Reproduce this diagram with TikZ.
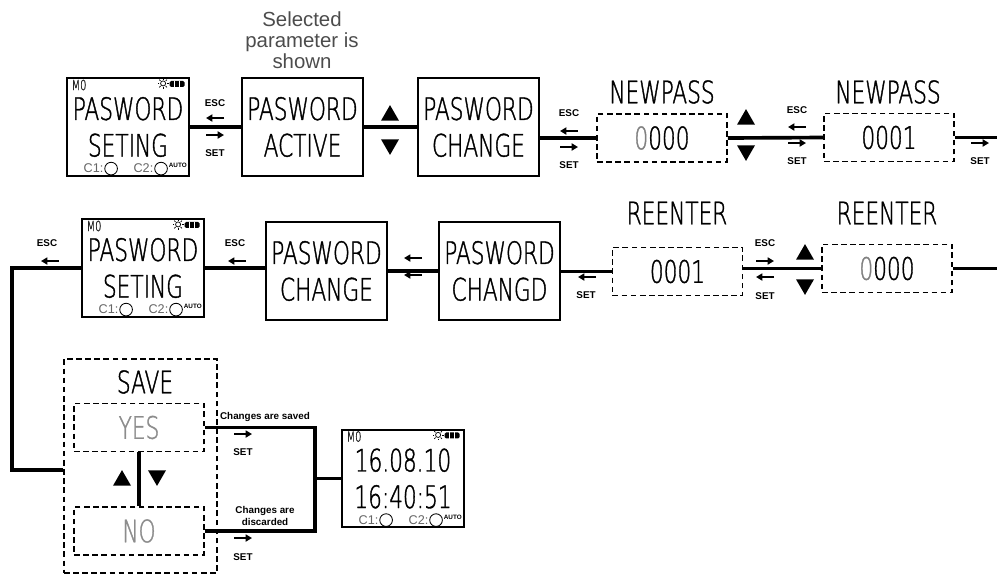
\documentclass[tikz,border=0pt]{standalone}
\usepackage{fontspec}
\setmainfont{Liberation Sans}
\newfontfamily\lcdfont{DejaVu Sans ExtraLight}[FakeStretch=0.7, FakeBold=1.2]
\usetikzlibrary{positioning,shapes.geometric,arrows.meta}

\newcommand{\lcdbig}{\lcdfont\fontsize{22}{26}\selectfont}
\newcommand{\lcdsmall}{\lcdfont\fontsize{10}{11}\selectfont}
\newcommand{\keyfont}{\bfseries\fontsize{7}{8}\selectfont}

\tikzset{
  screen/.style={draw, line width=1.4pt, minimum width=3.03cm, minimum height=2.43cm,
    inner sep=0pt, align=center, font=\lcdbig},
  entry/.style={draw, line width=1.1pt, dash pattern=on 4pt off 2.5pt,
    minimum width=3.25cm, minimum height=1.2cm, inner sep=0pt, font=\lcdbig},
  caption/.style={font=\lcdbig, inner sep=0pt},
  link/.style={line width=2.6pt},
  key/.style={font=\keyfont, inner sep=0pt},
  nudge/.style={line width=1.5pt, -{Triangle[length=4.5pt,width=5pt]}},
  keyup/.style={regular polygon, regular polygon sides=3, fill, inner sep=0pt, minimum size=0.52cm},
  keydown/.style={keyup, shape border rotate=180},
  tag/.style={font=\fontsize{9}{10}\selectfont, text=black!60, inner sep=0pt},
  ring/.style={circle, draw, line width=0.6pt, minimum size=9pt, inner sep=0pt}
}

% status row of the display
\newcommand{\lcdicons}[1]{%
  \node[font=\lcdsmall, text=black!85, inner sep=0pt, anchor=north west] (#1-mode)
    at ([shift={(5,2)}]#1.north west) {M0};
  \coordinate (#1-sun) at ([shift={(-26.5,6)}]#1.north east);
  \draw[line width=0.5pt] (#1-sun) circle[radius=1.8pt];
  \foreach \a in {0,45,...,315}
    \draw[line width=0.5pt] (#1-sun) ++(\a:2.6pt) -- ++(\a:1.3pt);
  \node[fill, rounded corners=1pt, minimum width=0.37cm, minimum height=0.15cm, inner sep=0pt]
    (#1-batt) at ([shift={(-12.5,6.5)}]#1.north east) {};
  \draw[white, line width=0.7pt] ([xshift=-1.8pt]#1-batt.north) -- ([xshift=-1.8pt]#1-batt.south)
    ([xshift=1.8pt]#1-batt.north) -- ([xshift=1.8pt]#1-batt.south);
  \node[tag, anchor=west] (#1-c1) at ([shift={(17,-8)}]#1.south west) {C1:};
  \node[ring, right=0.5pt of #1-c1] (#1-o1) {};
  \node[tag, right=11pt of #1-o1] (#1-c2) {C2:};
  \node[ring, right=0.5pt of #1-c2] (#1-o2) {};
  \node[font=\bfseries\fontsize{4.5}{5}\selectfont, anchor=south west, inner sep=0pt]
    (#1-auto) at ([shift={(0.8,-0.5)}]#1-o2.east) {AUTO};
}

\begin{document}
\begin{tikzpicture}[x=0.025cm, y=-0.025cm]
  \useasboundingbox (0,0) rectangle (997,574);

  % first row
  \node[font=\fontsize{14.5}{15}\selectfont, text=black!70, align=center, inner sep=0pt]
    (note) at (302,40) {Selected\\parameter is\\shown};
  \node[screen] (setA) at (128,127) {PASWORD\\SETING};
  \lcdicons{setA}
  \node[screen] (actA) at (302.5,127) {PASWORD\\ACTIVE};
  \node[screen] (chgA) at (478.5,127) {PASWORD\\CHANGE};
  \node[entry] (newA) at (662,138) {{\color{black!50}0}000};
  \node[entry] (newB) at (889,137.5) {0001};
  \node[caption] (newAcap) at (662,92) {NEWPASS};
  \node[caption] (newBcap) at (888,92) {NEWPASS};
  \coordinate (outA) at (997,137.5);

  % second row
  \node[screen] (setB) at (143,268) {PASWORD\\SETING};
  \lcdicons{setB}
  \node[screen] (chgB) at (326.5,271) {PASWORD\\CHANGE};
  \node[screen] (chgC) at (499.5,271) {PASWORD\\CHANGD};
  \node[entry] (reA) at (677.5,271.5) {0001};
  \node[entry] (reB) at (887,268.5) {{\color{black!50}0}000};
  \node[caption] (reAcap) at (677,213) {REENTER};
  \node[caption] (reBcap) at (887,213) {REENTER};
  \coordinate (inB) at (997,268.5);
  \coordinate (bendB) at (12,470);

  % save menu and clock
  \node[entry, minimum width=3.83cm, minimum height=5.35cm] (save) at (140.5,466) {};
  \node[caption] (savecap) at (145,382) {SAVE};
  \node[entry, text=black!45] (yes) at (139,427.5) {YES};
  \node[entry, text=black!45] (no) at (139,531) {NO};
  \node[screen] (clock) at (403,478.5) {16.08.10\\16:40:51};
  \lcdicons{clock}
  \coordinate (joinS) at (315,478.5);
  \node[key] (saved) at (265,417) {Changes are saved};
  \node[key, align=center] (discard) at (265,516) {Changes are\\discarded};

  % connectors
  \draw[link] (setA.east) -- (actA.west);
  \draw[link] (actA.east) -- (chgA.west);
  \draw[link] (newA.west) -- (newA.west -| chgA.east);
  \draw[link] (newA.east) -- (newB.west);
  \draw[link] (newB.east) -- (outA);
  \draw[link] (inB) -- (reB.east);
  \draw[link] (reB.west) -- (reB.west -| reA.east);
  \draw[link] (reA.west) -- (reA.west -| chgC.east);
  \draw[link] (chgC.west) -- (chgB.east);
  \draw[link] (setB.east) -- (setB.east -| chgB.west);
  \draw[link] (setB.west) -| (bendB) -- (bendB -| save.west);
  \draw[link] (yes.south) -- (no.north);
  \draw[link] (yes.east) -| (joinS) |- (no.east);
  \draw[link] (joinS) -- (clock.west);

  % keys
  \foreach \x/\y/\t [count=\i] in {215/103/ESC, 215/153/SET, 569/113/ESC, 569/165/SET,
    797/110/ESC, 797/161/SET, 980/161/SET, 47/243/ESC, 235/243/ESC, 586/295/SET,
    765/243/ESC, 765/296/SET, 243/452/SET, 243/557/SET}
    \node[key] (key\i) at (\x,\y) {\t};
  \foreach \x/\y/\d in {215/118/-1, 215/135/1, 569/131/-1, 569/147/1, 797/127/-1,
    797/143/1, 980/143/1, 50/261/-1, 237/261/-1, 413/258/-1, 413/275/-1, 587/277/-1,
    765/261/1, 765/277/-1, 243/434/1, 243/538/1}
    \draw[nudge] ({\x-9*\d},\y) -- ({\x+9*\d},\y);
  \foreach \x/\y/\s [count=\i] in {390/115.5/keyup, 390/144.5/keydown, 746/119.5/keyup,
    746/150.5/keydown, 805/254.5/keyup, 805/284.5/keydown, 122/480.5/keyup, 157/475.5/keydown}
    \node[\s] (tri\i) at (\x,\y) {};
\end{tikzpicture}
\end{document}
